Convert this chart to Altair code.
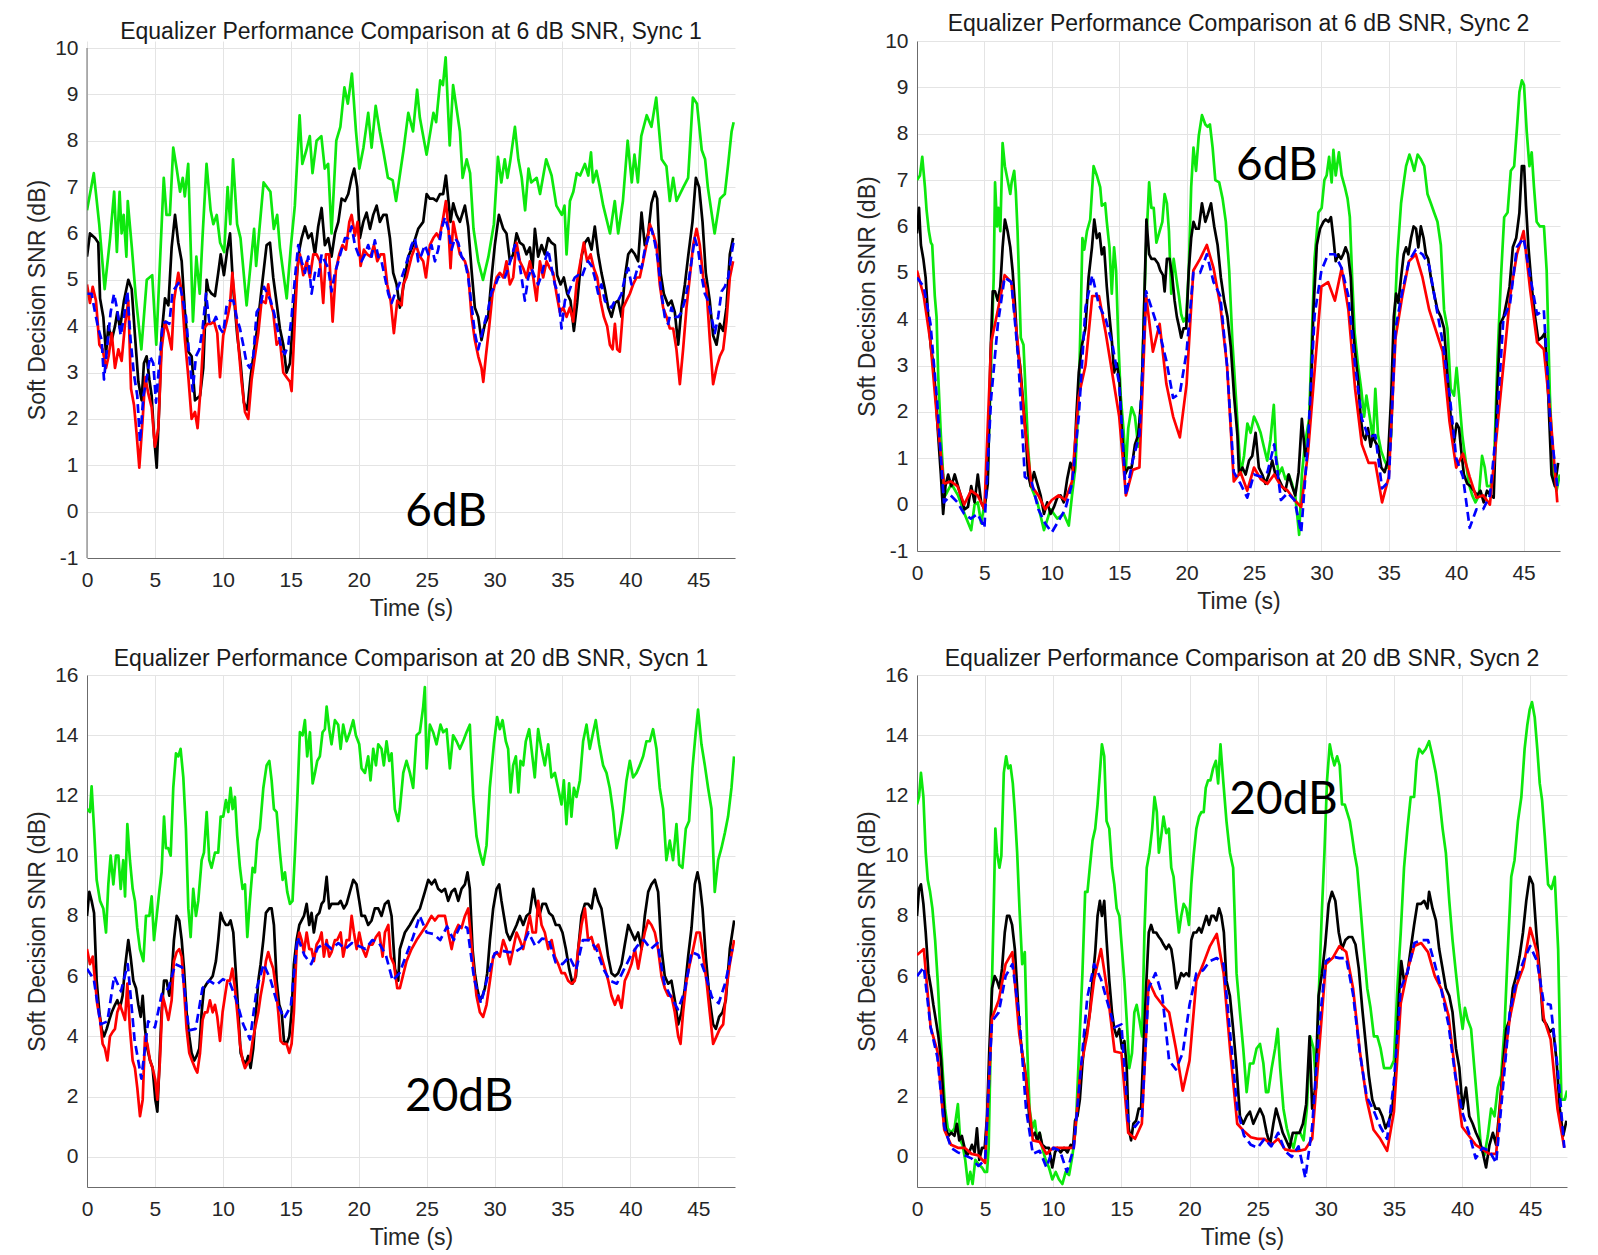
import altair as alt
import pandas as pd

# common sample times (s), 0.5 s spacing
TIME = [k / 2 for k in range(96)]

# ---------------- 6 dB SNR, Sync 1 (read at their own irregular times) ----------------
P1_GREEN_T = [0, 0.5, 0.9, 1.3, 1.7, 2.0, 2.2, 2.4, 2.55, 2.7,
              2.9, 3.0, 3.3, 3.6, 4.0, 4.4, 4.8, 5.1, 5.65, 5.85,
              6.1, 6.35, 6.6, 6.85, 7.05, 7.2, 7.45, 7.8, 8.05, 8.3,
              8.5, 8.8, 9.1, 9.3, 9.55, 9.8, 10.1, 10.35, 10.55, 10.75,
              11.05, 11.3, 11.75, 12.1, 12.3, 12.45, 13.0, 13.5, 13.75, 14.0,
              14.2, 14.7, 15.0, 15.3, 15.65, 15.85, 16.15, 16.4, 16.6, 16.9,
              17.25, 17.5, 17.75, 18.0, 18.35, 18.65, 18.95, 19.2, 19.5, 19.8,
              20.05, 20.35, 20.7, 20.95, 21.25, 21.55, 21.8, 22.15, 22.5, 22.75,
              23.0, 23.3, 23.65, 24.0, 24.3, 24.5, 25.0, 25.5, 25.7, 26.0,
              26.2, 26.4, 26.7, 26.95, 27.2, 27.45, 27.65, 27.95, 28.2, 28.45,
              28.8, 29.15, 29.55, 29.95, 30.25, 30.5, 30.75, 30.95, 31.15, 31.5,
              31.75, 32.0, 32.25, 32.5, 32.7, 33.1, 33.35, 33.8, 34.2, 34.55,
              34.95, 35.15, 35.3, 35.55, 35.8, 36.05, 36.3, 36.65, 36.9, 37.1,
              37.25, 37.5, 37.75, 38.0, 38.5, 38.85, 39.1, 39.45, 39.8, 40.1,
              40.3, 40.55, 40.8, 41.2, 41.55, 41.9, 42.3, 42.65, 42.9, 43.15,
              43.4, 43.9, 44.25, 44.6, 44.9, 45.25, 45.5, 45.7, 46.2, 46.6,
              46.95, 47.2, 47.45, 47.6]
P1_GREEN_V = [6.5, 7.3, 6.2, 4.8, 5.9, 6.9, 5.6, 6.9, 6.0, 6.4,
              5.5, 6.7, 5.7, 4.6, 3.5, 5.0, 5.1, 3.6, 7.2, 6.4,
              6.4, 7.85, 7.4, 6.9, 7.2, 6.8, 7.5, 4.1, 5.5, 4.7,
              5.9, 7.5, 6.5, 6.2, 6.4, 5.8, 5.6, 7.0, 6.2, 7.6,
              6.2, 5.9, 4.45, 5.5, 6.1, 5.3, 7.1, 6.9, 6.1, 6.4,
              5.7, 4.6, 5.7, 6.6, 8.55, 7.5, 7.8, 8.1, 7.3, 8.0,
              8.1, 7.4, 7.5, 6.0, 8.0, 8.3, 9.15, 8.8, 9.45, 8.2,
              7.4, 7.85, 8.6, 7.85, 8.75, 8.2, 7.8, 7.2, 7.15, 6.7,
              7.2, 7.8, 8.6, 8.2, 9.1, 8.5, 7.7, 8.6, 8.4, 9.3,
              9.2, 9.8, 7.9, 9.2, 8.7, 8.2, 7.2, 7.6, 7.3, 6.1,
              5.4, 5.0, 5.5, 6.2, 7.65, 7.1, 7.6, 7.2, 7.55, 8.3,
              7.6, 7.2, 6.5, 7.4, 7.1, 7.2, 6.85, 7.6, 7.25, 6.6,
              6.4, 6.6, 5.55, 6.7, 6.9, 7.3, 7.25, 7.5, 7.25, 7.75,
              7.1, 7.35, 7.0, 6.6, 6.0, 6.7, 6.0, 6.7, 8.0, 7.1,
              7.7, 7.1, 8.1, 8.55, 8.3, 8.93, 7.6, 7.45, 6.7, 7.2,
              6.7, 7.0, 7.2, 8.93, 8.8, 7.8, 7.6, 7.0, 6.0, 6.75,
              6.85, 7.5, 8.2, 8.4]
P1_BLACK_T = [0, 0.22, 0.59, 0.83, 0.96, 1.2, 1.4, 1.57, 1.82, 2.06,
              2.23, 2.43, 2.72, 3.04, 3.29, 3.53, 3.78, 4.02, 4.19, 4.39,
              4.59, 4.76, 4.93, 5.13, 5.32, 5.49, 5.74, 5.99, 6.23, 6.48,
              6.72, 6.97, 7.21, 7.46, 7.7, 7.95, 8.32, 8.56, 8.81, 8.93,
              9.17, 9.42, 9.66, 9.84, 10.08, 10.33, 10.53, 10.77, 11.06, 11.31,
              11.55, 11.8, 12.04, 12.29, 12.53, 12.85, 13.22, 13.47, 13.71, 13.96,
              14.2, 14.45, 14.69, 14.94, 15.18, 15.43, 15.63, 15.8, 16.04, 16.29,
              16.53, 16.78, 17.02, 17.27, 17.51, 17.76, 18.0, 18.25, 18.5, 18.74,
              18.99, 19.23, 19.48, 19.67, 19.89, 20.09, 20.34, 20.58, 20.83, 21.07,
              21.32, 21.56, 21.81, 22.05, 22.3, 22.54, 22.79, 23.03, 23.4, 23.65,
              24.01, 24.38, 24.75, 25.0, 25.24, 25.49, 25.73, 25.98, 26.22, 26.42,
              26.59, 26.76, 26.96, 27.2, 27.45, 27.82, 28.06, 28.31, 28.55, 28.8,
              29.04, 29.29, 29.53, 29.78, 30.02, 30.32, 30.64, 30.88, 31.13, 31.37,
              31.62, 31.86, 32.11, 32.35, 32.6, 32.8, 32.97, 33.21, 33.46, 33.7,
              33.95, 34.19, 34.44, 34.61, 34.86, 35.1, 35.35, 35.59, 35.84, 36.08,
              36.4, 36.65, 36.89, 37.14, 37.38, 37.63, 37.87, 38.12, 38.37, 38.61,
              38.86, 39.1, 39.35, 39.59, 39.84, 40.08, 40.33, 40.57, 40.82, 41.06,
              41.31, 41.55, 41.8, 41.97, 42.22, 42.46, 42.78, 43.02, 43.27, 43.52,
              43.76, 44.01, 44.25, 44.57, 44.82, 45.06, 45.31, 45.55, 45.84, 46.09,
              46.34, 46.58, 46.83, 47.07, 47.32, 47.56]
P1_BLACK_V = [5.5, 6.0, 5.9, 5.8, 4.6, 4.2, 3.4, 4.0, 3.7, 4.0,
              4.3, 3.95, 4.55, 5.0, 4.8, 3.8, 2.8, 2.4, 3.2, 3.35,
              2.85, 2.5, 1.65, 0.95, 2.3, 3.8, 4.6, 4.45, 5.7, 6.4,
              5.8, 5.4, 4.3, 3.45, 3.35, 2.4, 2.5, 3.1, 5.0, 4.8,
              4.7, 4.65, 5.15, 5.55, 5.1, 5.65, 6.0, 4.8, 3.8, 3.2,
              2.35, 2.2, 2.9, 3.45, 3.95, 4.8, 5.75, 5.8, 5.05, 4.5,
              3.95, 3.6, 3.0, 3.2, 4.2, 5.05, 5.65, 5.9, 6.15, 5.9,
              6.0, 5.55, 6.15, 6.55, 5.75, 5.9, 5.5, 6.0, 6.25, 6.75,
              6.7, 6.85, 7.2, 7.4, 7.0, 5.9, 6.25, 6.45, 6.1, 6.4,
              6.6, 6.25, 6.4, 6.4, 5.9, 5.15, 4.9, 4.4, 5.05, 5.5,
              5.75, 6.1, 6.25, 6.85, 6.75, 6.75, 6.7, 6.85, 6.85, 7.25,
              6.75, 6.25, 6.65, 6.4, 6.25, 6.6, 6.15, 5.2, 4.4, 4.2,
              3.7, 4.05, 4.2, 5.05, 5.75, 6.4, 6.1, 6.0, 5.4, 5.55,
              6.0, 5.8, 5.75, 5.55, 5.7, 5.25, 6.1, 5.5, 5.75, 5.55,
              5.9, 5.8, 5.75, 5.1, 4.9, 5.05, 4.7, 4.55, 3.9, 4.5,
              5.5, 5.8, 5.9, 5.65, 6.15, 5.55, 5.15, 4.8, 4.4, 4.2,
              4.5, 4.55, 4.2, 5.05, 5.55, 5.65, 5.55, 5.4, 6.45, 5.75,
              6.0, 6.65, 6.9, 6.75, 5.15, 4.7, 4.45, 4.55, 4.3, 3.6,
              4.4, 4.9, 5.5, 6.25, 7.2, 7.0, 6.25, 5.15, 4.55, 3.8,
              3.6, 4.05, 3.9, 4.4, 5.55, 5.9]
P1_RED_T = [0, 0.22, 0.42, 0.66, 0.91, 1.15, 1.4, 1.59, 1.82, 2.06,
            2.31, 2.55, 2.8, 3.04, 3.24, 3.46, 3.66, 3.85, 4.1, 4.29,
            4.51, 4.76, 5.0, 5.25, 5.49, 5.74, 5.99, 6.23, 6.4, 6.72,
            6.97, 7.21, 7.46, 7.7, 7.95, 8.14, 8.36, 8.61, 8.86, 9.1,
            9.35, 9.59, 9.79, 10.03, 10.28, 10.52, 10.7, 10.89, 11.14, 11.38,
            11.63, 11.87, 12.12, 12.36, 12.61, 12.85, 13.15, 13.34, 13.52, 13.71,
            13.96, 14.2, 14.45, 14.69, 14.94, 15.06, 15.31, 15.5, 15.67, 15.92,
            16.17, 16.41, 16.66, 16.9, 17.15, 17.39, 17.59, 17.83, 18.08, 18.32,
            18.57, 18.81, 19.06, 19.31, 19.48, 19.72, 19.92, 20.14, 20.38, 20.63,
            20.87, 21.12, 21.37, 21.61, 21.86, 22.1, 22.35, 22.59, 22.84, 23.16,
            23.28, 23.52, 23.89, 24.21, 24.51, 24.75, 24.95, 25.24, 25.49, 25.73,
            25.93, 26.17, 26.42, 26.61, 26.76, 26.96, 27.2, 27.45, 27.82, 28.06,
            28.31, 28.55, 28.8, 29.04, 29.17, 29.36, 29.61, 29.85, 30.15, 30.39,
            30.64, 30.88, 31.13, 31.37, 31.62, 31.86, 32.11, 32.35, 32.6, 32.85,
            33.09, 33.34, 33.58, 33.83, 34.07, 34.32, 34.56, 34.81, 35.05, 35.3,
            35.54, 35.79, 36.03, 36.33, 36.57, 36.82, 37.07, 37.31, 37.56, 37.8,
            38.05, 38.29, 38.49, 38.69, 38.86, 39.03, 39.22, 39.47, 39.71, 39.96,
            40.2, 40.45, 40.69, 40.94, 41.18, 41.43, 41.67, 41.92, 42.16, 42.41,
            42.66, 42.9, 43.15, 43.39, 43.64, 43.88, 44.13, 44.37, 44.62, 44.87,
            45.11, 45.36, 45.6, 45.85, 46.09, 46.34, 46.58, 46.83, 47.07, 47.32,
            47.56]
P1_RED_V = [4.9, 4.5, 4.85, 4.55, 3.6, 3.5, 3.1, 3.35, 3.85, 3.1,
            3.5, 3.25, 4.05, 4.55, 2.65, 2.3, 1.65, 0.95, 2.0, 2.9,
            2.55, 2.25, 1.4, 1.8, 3.5, 4.1, 3.85, 3.5, 4.55, 5.15,
            4.75, 3.7, 2.9, 2.0, 2.15, 1.8, 2.65, 3.95, 4.05, 4.05,
            4.1, 3.85, 2.9, 3.8, 4.1, 4.45, 5.15, 4.55, 3.6, 2.8,
            2.15, 2.0, 2.85, 3.35, 3.85, 4.55, 4.5, 4.9, 4.5, 4.3,
            3.6, 3.7, 3.0, 2.9, 2.8, 2.6, 4.2, 5.3, 5.55, 5.1,
            5.4, 5.05, 5.55, 5.55, 5.4, 4.5, 5.55, 5.55, 4.1, 5.2,
            5.55, 5.75, 5.65, 6.25, 6.4, 5.95, 6.25, 5.3, 5.65, 5.55,
            5.5, 5.75, 5.4, 5.55, 5.55, 4.9, 4.55, 3.85, 4.55, 4.45,
            4.9, 5.05, 5.5, 5.75, 5.5, 5.4, 5.05, 5.75, 5.9, 6.0,
            5.9, 6.25, 6.7, 6.1, 5.25, 6.25, 5.9, 5.55, 5.4, 5.15,
            4.2, 3.7, 3.35, 3.1, 2.8, 3.35, 4.0, 4.7, 5.05, 5.15,
            5.05, 5.4, 4.9, 5.05, 5.8, 5.4, 5.25, 5.05, 5.4, 5.05,
            4.55, 5.4, 5.05, 5.4, 5.25, 5.15, 4.7, 4.3, 4.4, 4.2,
            4.4, 4.1, 4.9, 5.4, 5.8, 5.4, 5.55, 5.25, 5.05, 4.55,
            4.2, 4.0, 3.6, 3.5, 4.05, 3.5, 3.45, 4.4, 4.55, 4.7,
            4.9, 5.05, 5.05, 5.4, 5.75, 6.2, 6.0, 5.75, 4.9, 4.4,
            4.2, 3.95, 3.95, 3.5, 2.75, 3.5, 4.4, 5.05, 5.75, 6.1,
            5.75, 5.05, 4.8, 3.7, 2.75, 3.1, 3.35, 3.5, 4.1, 5.05,
            5.4]
P1_BLUE_T = [0, 0.34, 0.59, 0.83, 1.08, 1.25, 1.5, 1.74, 1.99, 2.23,
             2.48, 2.72, 2.97, 3.21, 3.46, 3.7, 3.9, 4.15, 4.39, 4.64,
             4.88, 5.08, 5.32, 5.57, 5.81, 6.06, 6.3, 6.55, 6.79, 7.04,
             7.29, 7.53, 7.78, 8.02, 8.27, 8.51, 8.76, 9.0, 9.25, 9.49,
             9.79, 10.03, 10.28, 10.52, 10.77, 11.01, 11.26, 11.5, 11.75, 11.99,
             12.24, 12.49, 12.78, 13.03, 13.27, 13.52, 13.76, 14.01, 14.33, 14.57,
             14.82, 15.06, 15.31, 15.55, 15.8, 16.04, 16.29, 16.53, 16.78, 17.02,
             17.27, 17.51, 17.76, 18.0, 18.25, 18.5, 18.74, 18.99, 19.23, 19.48,
             19.72, 19.97, 20.21, 20.46, 20.7, 20.95, 21.19, 21.44, 21.68, 21.93,
             22.18, 22.42, 22.67, 22.91, 23.16, 23.4, 23.65, 23.89, 24.14, 24.38,
             24.63, 24.87, 25.12, 25.36, 25.61, 25.85, 26.1, 26.35, 26.59, 26.84,
             27.08, 27.33, 27.57, 27.82, 28.06, 28.31, 28.55, 28.8, 29.04, 29.29,
             29.53, 29.78, 30.02, 30.27, 30.52, 30.76, 31.01, 31.25, 31.5, 31.74,
             31.99, 32.23, 32.48, 32.72, 32.97, 33.21, 33.46, 33.7, 33.95, 34.2,
             34.44, 34.69, 34.93, 35.18, 35.42, 35.67, 35.91, 36.16, 36.4, 36.65,
             36.89, 37.14, 37.38, 37.63, 37.87, 38.12, 38.37, 38.61, 38.86, 39.1,
             39.35, 39.59, 39.84, 40.08, 40.33, 40.57, 40.82, 41.06, 41.31, 41.55,
             41.8, 42.04, 42.29, 42.53, 42.78, 43.02, 43.27, 43.52, 43.76, 44.01,
             44.25, 44.5, 44.74, 44.99, 45.23, 45.48, 45.72, 45.97, 46.21, 46.46,
             46.71, 46.95, 47.2, 47.44, 47.64]
P1_BLUE_V = [4.7, 4.7, 4.3, 3.95, 3.7, 2.85, 3.6, 4.3, 4.7, 4.35,
             3.8, 4.2, 4.75, 3.7, 2.95, 2.5, 1.5, 2.5, 2.85, 3.35,
             3.2, 2.35, 3.2, 4.05, 4.1, 4.05, 4.75, 4.85, 4.95, 4.6,
             4.2, 3.35, 2.6, 3.35, 3.5, 3.95, 4.7, 4.1, 4.05, 4.2,
             3.95, 3.85, 4.45, 4.55, 4.55, 4.2, 3.95, 3.6, 3.2, 3.1,
             3.35, 4.3, 4.45, 4.85, 4.7, 4.55, 4.3, 3.95, 3.5, 3.4,
             3.6, 4.2, 5.05, 5.75, 5.4, 5.15, 5.5, 4.7, 5.15, 5.05,
             5.55, 5.4, 5.25, 4.75, 5.15, 5.4, 5.65, 5.9, 5.9, 6.15,
             5.75, 5.55, 5.4, 5.55, 5.75, 5.5, 5.85, 5.5, 5.4, 5.05,
             4.7, 4.5, 4.7, 4.85, 5.05, 5.25, 5.5, 5.75, 5.9, 5.4,
             5.55, 5.75, 5.55, 5.75, 5.4, 5.65, 6.1, 6.35, 6.1, 5.65,
             5.9, 5.8, 5.5, 5.4, 5.05, 4.45, 3.85, 3.5, 3.8, 4.1,
             4.35, 4.75, 4.85, 5.05, 5.1, 5.05, 5.25, 5.5, 5.75, 5.55,
             5.05, 4.55, 5.05, 5.25, 5.05, 4.9, 5.1, 5.4, 5.65, 5.25,
             4.9, 4.7, 3.95, 4.55, 4.7, 4.9, 5.05, 5.1, 5.05, 5.25,
             5.4, 5.3, 5.05, 4.7, 4.9, 4.55, 4.45, 4.4, 4.55, 4.55,
             4.7, 5.05, 5.25, 4.9, 5.05, 5.3, 5.25, 5.65, 5.9, 6.1,
             5.8, 5.4, 4.7, 4.2, 4.05, 4.4, 4.2, 4.2, 4.3, 4.55,
             4.9, 5.4, 5.9, 5.65, 5.1, 4.7, 4.55, 4.2, 3.85, 4.2,
             4.75, 4.85, 5.05, 5.55, 5.9]

# ---------------- 6 dB SNR, Sync 2 ----------------
P2_GREEN_T = [0, 0.22, 0.39, 0.59, 0.71, 0.88, 1.03, 1.13, 1.32, 1.45,
              1.57, 1.77, 1.94, 2.11, 2.55, 3.04, 3.53, 4.02, 4.27, 4.51,
              4.76, 5.0, 5.25, 5.49, 5.69, 5.79, 5.94, 6.03, 6.18, 6.35,
              6.52, 6.72, 6.92, 7.02, 7.21, 7.33, 7.46, 7.7, 7.9, 8.07,
              8.24, 8.44, 8.93, 9.42, 9.91, 10.4, 10.89, 11.26, 11.5, 11.75,
              12.0, 12.17, 12.27, 12.41, 12.61, 12.85, 13.1, 13.34, 13.59, 13.71,
              13.96, 14.08, 14.28, 14.45, 14.62, 14.77, 14.94, 15.11, 15.31, 15.5,
              15.67, 15.92, 16.17, 16.41, 16.66, 16.83, 16.97, 17.22, 17.39, 17.56,
              17.76, 18.0, 18.2, 18.37, 18.54, 18.69, 18.86, 19.04, 19.23, 19.43,
              19.6, 19.77, 19.97, 20.16, 20.34, 20.51, 20.7, 20.9, 21.14, 21.39,
              21.56, 21.73, 21.93, 22.13, 22.42, 22.67, 22.91, 23.16, 23.4, 23.65,
              24.01, 24.26, 24.51, 24.75, 25.0, 25.24, 25.49, 25.73, 25.98, 26.22,
              26.47, 26.64, 26.84, 27.08, 27.33, 27.57, 27.82, 28.06, 28.35, 28.55,
              28.8, 29.09, 29.29, 29.49, 29.78, 30.02, 30.22, 30.39, 30.57, 30.76,
              30.89, 31.06, 31.3, 31.5, 31.74, 31.94, 32.11, 32.28, 32.47, 32.72,
              32.97, 33.17, 33.34, 33.58, 33.83, 34.0, 34.2, 34.44, 34.69, 34.93,
              35.18, 35.37, 35.62, 35.91, 36.11, 36.28, 36.53, 36.7, 36.89, 37.14,
              37.38, 37.63, 37.87, 38.12, 38.36, 38.61, 38.86, 39.1, 39.35, 39.59,
              39.84, 40.03, 40.21, 40.45, 40.7, 40.94, 41.19, 41.43, 41.68, 41.92,
              42.12, 42.29, 42.54, 42.78, 43.07, 43.32, 43.56, 43.81, 44.05, 44.3,
              44.5, 44.69, 44.87, 45.03, 45.23, 45.43, 45.6, 45.77, 45.97, 46.21,
              46.51, 46.71, 46.95, 47.2, 47.44, 47.69]
P2_GREEN_V = [7.0, 7.1, 7.5, 6.85, 6.35, 5.9, 5.65, 5.6, 4.5, 4.05,
              2.8, 1.5, 0.65, 0.2, 0.45, 0.2, -0.2, -0.55, 0.0, 0.05,
              -0.4, 0.0, 0.65, 2.95, 4.9, 6.95, 6.0, 6.4, 5.9, 7.8,
              7.3, 7.0, 6.7, 6.95, 7.2, 6.75, 5.9, 3.6, 3.45, 2.35,
              1.25, 0.4, 0.05, -0.55, -0.1, -0.3, -0.2, -0.45, 0.2, 0.8,
              2.35, 4.4, 5.75, 5.5, 5.9, 6.15, 7.3, 7.1, 6.85, 6.45,
              6.5, 6.1, 5.55, 4.55, 5.55, 5.05, 3.5, 2.35, 1.65, 0.8,
              1.65, 2.1, 1.9, 1.25, 2.35, 4.05, 5.4, 6.95, 6.4, 6.4,
              5.65, 5.9, 6.1, 6.7, 6.5, 5.9, 4.55, 5.3, 4.9, 4.5,
              4.1, 3.95, 4.05, 5.05, 6.85, 7.7, 7.2, 7.95, 8.4, 8.2,
              8.15, 8.2, 7.7, 7.0, 6.95, 6.6, 6.1, 5.05, 3.5, 2.35,
              0.65, 1.05, 1.75, 1.55, 1.9, 1.75, 1.55, 1.25, 0.95, 1.4,
              2.15, 1.05, 0.65, 0.8, 0.55, 0.65, 0.45, 0.2, -0.65, 0.65,
              1.35, 1.85, 3.6, 5.3, 6.3, 6.4, 7.0, 7.1, 7.5, 6.95,
              7.65, 7.1, 7.6, 7.1, 6.85, 6.6, 6.2, 4.9, 3.7, 3.0,
              2.45, 1.9, 2.35, 1.9, 1.4, 2.5, 1.5, 1.15, 0.95, 0.8,
              1.5, 3.6, 5.3, 6.5, 6.95, 7.3, 7.55, 7.4, 7.2, 7.55,
              7.45, 7.3, 6.7, 6.5, 6.3, 6.1, 5.6, 4.2, 3.8, 2.5,
              2.35, 2.95, 2.35, 1.5, 0.95, 0.45, 0.2, 0.05, 0.2, 1.05,
              0.8, 0.4, 0.4, 0.65, 3.2, 4.9, 6.2, 6.3, 7.2, 7.3,
              8.1, 8.9, 9.15, 9.05, 8.05, 7.3, 7.6, 6.85, 6.1, 6.0,
              6.0, 5.05, 2.35, 0.65, 0.3, 0.65]
P2_BLACK_T = [0, 0.15, 0.29, 0.47, 0.64, 0.83, 1.03, 1.2, 1.37, 1.57,
              1.77, 1.94, 2.11, 2.31, 2.55, 2.8, 3.04, 3.29, 3.53, 3.78,
              4.02, 4.27, 4.51, 4.76, 5.0, 5.25, 5.45, 5.62, 5.79, 5.99,
              6.18, 6.35, 6.52, 6.72, 6.92, 7.09, 7.26, 7.46, 7.65, 7.83,
              8.07, 8.24, 8.44, 8.68, 8.93, 9.17, 9.42, 9.66, 9.91, 10.16,
              10.4, 10.65, 10.89, 11.14, 11.38, 11.63, 11.82, 12.0, 12.24, 12.49,
              12.73, 12.98, 13.15, 13.34, 13.54, 13.71, 13.88, 14.08, 14.28, 14.45,
              14.62, 14.82, 15.01, 15.18, 15.43, 15.67, 15.92, 16.17, 16.41, 16.66,
              16.83, 17.02, 17.22, 17.39, 17.64, 17.88, 18.05, 18.25, 18.37, 18.54,
              18.74, 18.94, 19.11, 19.28, 19.43, 19.6, 19.77, 19.97, 20.16, 20.34,
              20.51, 20.7, 20.9, 21.14, 21.39, 21.56, 21.81, 22.05, 22.3, 22.54,
              22.79, 23.03, 23.28, 23.52, 23.77, 23.89, 24.14, 24.38, 24.63, 24.87,
              25.12, 25.36, 25.61, 25.85, 26.1, 26.35, 26.59, 26.84, 27.08, 27.33,
              27.57, 27.82, 28.06, 28.31, 28.55, 28.8, 28.99, 29.16, 29.41, 29.66,
              29.9, 30.15, 30.32, 30.52, 30.71, 30.89, 31.06, 31.25, 31.45, 31.62,
              31.79, 31.98, 32.18, 32.35, 32.53, 32.72, 32.92, 33.09, 33.26, 33.46,
              33.65, 33.83, 34.0, 34.2, 34.44, 34.69, 34.93, 35.18, 35.37, 35.54,
              35.71, 35.91, 36.11, 36.28, 36.45, 36.65, 36.84, 37.02, 37.19, 37.38,
              37.58, 37.75, 37.92, 38.12, 38.36, 38.61, 38.86, 39.1, 39.35, 39.59,
              39.84, 40.03, 40.21, 40.38, 40.57, 40.82, 41.06, 41.31, 41.55, 41.8,
              42.04, 42.29, 42.54, 42.78, 43.03, 43.27, 43.52, 43.76, 43.96, 44.2,
              44.45, 44.69, 44.87, 45.04, 45.18, 45.36, 45.6, 45.85, 46.09, 46.34,
              46.58, 46.83, 47.07, 47.32, 47.56]
P2_BLACK_V = [5.85, 6.4, 5.6, 5.3, 4.9, 4.05, 3.4, 3.05, 2.45, 1.5,
              0.65, -0.2, 0.4, 0.65, 0.4, 0.65, 0.4, 0.15, -0.1, -0.05,
              0.4, 0.05, 0.65, 0.05, -0.1, 0.45, 3.2, 4.6, 4.6, 4.4,
              4.7, 5.55, 6.15, 5.9, 5.55, 5.05, 4.35, 3.35, 3.0, 2.35,
              1.5, 0.65, 0.4, 0.7, 0.45, 0.2, -0.2, 0.05, -0.2, -0.05,
              0.15, 0.2, 0.05, 0.55, 0.9, 0.7, 1.9, 2.85, 3.45, 3.8,
              4.9, 5.55, 6.15, 5.75, 5.85, 5.4, 5.55, 4.7, 4.05, 3.55,
              2.85, 3.05, 2.7, 1.65, 0.65, 0.8, 0.8, 1.3, 1.5, 2.35,
              4.05, 6.15, 5.4, 5.3, 5.3, 5.2, 5.05, 4.95, 4.6, 5.3,
              5.3, 4.9, 4.4, 4.05, 3.85, 3.6, 3.8, 3.8, 5.05, 5.75,
              6.1, 5.95, 5.95, 6.5, 6.1, 6.25, 6.5, 6.0, 5.6, 4.9,
              4.4, 4.05, 3.4, 2.35, 1.5, 0.65, 0.8, 0.65, 0.95, 1.05,
              1.55, 0.8, 0.65, 0.45, 0.65, 0.95, 0.65, 0.55, 0.4, 0.3,
              0.65, 0.4, 0.2, 0.7, 1.85, 1.05, 1.25, 1.9, 4.2, 5.6,
              5.95, 6.1, 6.15, 6.1, 6.2, 5.75, 5.25, 5.4, 5.3, 5.4,
              5.55, 5.4, 4.9, 3.8, 3.2, 2.7, 1.85, 1.5, 1.4, 1.65,
              1.25, 1.5, 1.35, 1.25, 0.8, 0.7, 0.95, 2.35, 4.05, 4.55,
              4.35, 4.9, 5.4, 5.55, 5.4, 5.75, 6.0, 5.95, 5.55, 6.0,
              5.75, 5.4, 5.3, 4.9, 4.55, 4.2, 4.05, 3.8, 2.8, 1.9,
              1.35, 1.75, 1.65, 1.15, 0.65, 0.45, 0.4, 0.3, 0.2, 0.3,
              0.05, 0.3, 0.2, 0.15, 2.35, 3.9, 4.05, 4.4, 4.7, 5.55,
              5.75, 6.3, 7.3, 7.3, 6.45, 5.55, 4.7, 4.05, 3.55, 3.6,
              3.7, 2.35, 0.65, 0.4, 0.9]
P2_RED = [5.05, 4.5, 3.5, 1.8, 0.45, 0.5, 0.4, 0.0, 0.3, 0.2,
          -0.1, 3.5, 4.2, 4.95, 4.8, 3.4, 1.7, 0.4, 0.2, -0.1,
          0.1, 0.2, 0.1, 0.5, 2.35, 3.0, 4.5, 4.5, 3.7, 2.8,
          1.9, 0.2, 0.75, 0.8, 4.5, 3.3, 3.9, 2.6, 1.9, 1.45,
          2.6, 5.05, 5.3, 5.6, 5.1, 4.3, 3.0, 0.5, 0.7, 0.3,
          0.8, 0.55, 0.45, 0.65, 0.4, 0.3, 0.1, -0.05, 1.1, 2.9,
          4.7, 4.8, 4.4, 5.1, 4.2, 2.5, 1.3, 0.9, 0.9, 0.05,
          0.6, 3.6, 4.5, 5.25, 5.4, 4.9, 4.2, 3.75, 3.3, 1.8,
          0.8, 1.1, 0.6, 0.15, 0.2, 0.0, 1.5, 3.0, 4.5, 5.4,
          5.9, 4.6, 3.5, 3.35, 1.9, 0.05]
P2_BLUE = [4.9, 4.7, 3.9, 2.2, 0.05, 0.2, 0.05, -0.2, -0.3, -0.2,
           -0.5, 2.3, 3.9, 4.9, 4.8, 3.2, 0.6, 0.5, -0.1, -0.4,
           -0.6, -0.35, -0.1, 0.45, 1.9, 4.25, 4.95, 4.3, 4.0, 3.45,
           2.6, 0.2, 0.95, 1.5, 4.6, 4.15, 3.7, 3.1, 2.3, 2.4,
           3.3, 5.0, 5.0, 5.4, 4.8, 4.5, 3.0, 0.7, 0.45, 0.15,
           0.65, 0.6, 0.7, 1.3, 0.1, 0.25, 0.1, -0.6, 1.35, 4.1,
           5.05, 5.4, 5.4, 5.1, 4.5, 3.0, 1.85, 1.45, 1.5, 0.35,
           0.5, 3.8, 4.6, 5.25, 5.5, 5.4, 5.15, 4.3, 3.5, 2.4,
           1.0, 0.6, -0.5, -0.1, -0.1, 0.2, 1.7, 4.0, 4.35, 5.55,
           5.75, 4.9, 4.1, 4.2, 1.7, 0.4]

# ---------------- 20 dB SNR, Sync 1 ----------------
P3_GREEN_T = [0, 0.22, 0.34, 0.52, 0.71, 0.96, 1.2, 1.4, 1.57, 1.74,
              1.94, 2.13, 2.31, 2.48, 2.67, 2.8, 2.97, 3.16, 3.36, 3.53,
              3.7, 3.9, 4.15, 4.34, 4.59, 4.76, 4.93, 5.13, 5.32, 5.49,
              5.67, 5.81, 5.98, 6.16, 6.35, 6.55, 6.72, 6.89, 7.09, 7.28,
              7.46, 7.63, 7.82, 8.02, 8.19, 8.44, 8.61, 8.81, 9.0, 9.17,
              9.42, 9.66, 9.84, 10.03, 10.23, 10.4, 10.57, 10.72, 10.89, 11.06,
              11.26, 11.45, 11.63, 11.8, 11.99, 12.19, 12.36, 12.53, 12.73, 12.98,
              13.22, 13.42, 13.59, 13.76, 13.96, 14.2, 14.4, 14.57, 14.74, 14.94,
              15.13, 15.31, 15.48, 15.67, 15.87, 16.04, 16.21, 16.41, 16.61, 16.78,
              16.95, 17.14, 17.34, 17.51, 17.64, 17.83, 18.0, 18.25, 18.49, 18.67,
              18.86, 19.11, 19.35, 19.6, 19.79, 20.04, 20.21, 20.46, 20.7, 20.87,
              21.07, 21.27, 21.44, 21.68, 21.85, 22.05, 22.25, 22.42, 22.66, 22.91,
              23.03, 23.28, 23.52, 23.77, 24.01, 24.26, 24.5, 24.75, 24.87, 25.0,
              25.24, 25.48, 25.73, 26.02, 26.22, 26.47, 26.71, 26.95, 27.2, 27.45,
              27.69, 27.94, 28.18, 28.43, 28.67, 28.92, 29.16, 29.41, 29.65, 29.95,
              30.19, 30.39, 30.59, 30.83, 31.0, 31.18, 31.37, 31.57, 31.76, 31.91,
              32.11, 32.3, 32.55, 32.72, 32.96, 33.21, 33.45, 33.7, 33.95, 34.19,
              34.44, 34.68, 34.93, 35.1, 35.29, 35.49, 35.66, 35.84, 36.03, 36.28,
              36.52, 36.77, 37.01, 37.26, 37.45, 37.7, 37.99, 38.24, 38.48, 38.73,
              38.98, 39.22, 39.46, 39.71, 39.96, 40.2, 40.45, 40.69, 40.94, 41.18,
              41.43, 41.67, 41.92, 42.16, 42.41, 42.65, 42.9, 43.14, 43.39, 43.59,
              43.83, 44.08, 44.32, 44.57, 44.81, 44.98, 45.23, 45.48, 45.72, 45.97,
              46.21, 46.46, 46.7, 46.95, 47.19, 47.44, 47.63]
P3_GREEN_V = [11.55, 11.45, 12.3, 10.9, 9.2, 8.5, 8.25, 7.45, 9.05, 10.0,
              9.05, 10.0, 10.0, 8.9, 9.85, 8.65, 11.05, 9.85, 8.9, 8.5,
              7.6, 6.9, 6.5, 8.0, 8.0, 8.65, 7.2, 8.0, 8.8, 9.45,
              11.3, 10.25, 10.25, 10.0, 12.25, 13.4, 13.3, 13.55, 12.6, 10.9,
              8.25, 7.3, 8.9, 8.0, 8.5, 9.85, 10.1, 11.45, 9.85, 9.6,
              10.1, 10.1, 11.3, 11.3, 11.85, 11.45, 12.25, 11.55, 11.95, 10.65,
              9.6, 8.9, 9.05, 7.3, 8.5, 9.6, 9.45, 10.5, 10.9, 12.25,
              13.0, 13.15, 12.5, 11.55, 11.45, 10.1, 9.2, 9.45, 8.8, 8.4,
              8.5, 10.1, 11.85, 14.1, 14.0, 14.5, 13.3, 14.1, 12.4, 12.75,
              13.15, 13.3, 14.1, 14.2, 14.95, 14.2, 13.7, 14.5, 14.35, 13.55,
              14.35, 13.8, 14.1, 14.5, 14.0, 13.7, 12.9, 12.75, 13.3, 12.5,
              13.55, 13.0, 13.7, 13.55, 13.0, 13.8, 13.15, 13.4, 11.55, 11.15,
              11.55, 12.75, 13.15, 12.75, 12.25, 14.0, 14.1, 14.95, 15.6, 12.9,
              14.35, 14.1, 13.7, 14.35, 14.1, 14.2, 12.9, 14.0, 13.8, 13.55,
              13.8, 14.1, 14.35, 11.95, 10.65, 10.1, 9.7, 10.35, 12.25, 13.7,
              14.6, 14.2, 14.5, 13.8, 13.55, 12.1, 13.0, 13.3, 12.1, 13.15,
              13.0, 13.8, 14.2, 13.55, 12.6, 14.2, 13.55, 13.0, 13.7, 12.6,
              12.75, 12.25, 11.7, 12.5, 11.05, 12.4, 11.3, 12.25, 11.95, 12.5,
              13.8, 14.35, 13.55, 14.1, 14.5, 13.7, 13.0, 12.75, 12.25, 11.45,
              10.25, 10.75, 11.45, 12.5, 13.15, 12.6, 12.75, 13.0, 13.3, 13.8,
              13.8, 14.2, 13.55, 12.25, 11.55, 9.85, 10.5, 9.85, 11.05, 9.7,
              9.6, 10.9, 11.15, 12.9, 14.1, 14.85, 13.7, 13.0, 12.25, 11.55,
              8.8, 9.85, 10.25, 10.75, 11.3, 12.25, 13.3]
P3_BLACK_T = [0, 0.17, 0.34, 0.52, 0.71, 0.91, 1.08, 1.25, 1.45, 1.64,
              1.82, 2.06, 2.23, 2.43, 2.62, 2.8, 3.04, 3.21, 3.41, 3.61,
              3.78, 3.95, 4.1, 4.27, 4.44, 4.64, 4.83, 5.03, 5.18, 5.32,
              5.49, 5.67, 5.86, 6.06, 6.23, 6.4, 6.6, 6.79, 6.97, 7.14,
              7.33, 7.53, 7.7, 7.9, 8.07, 8.27, 8.44, 8.61, 8.81, 9.0,
              9.25, 9.49, 9.66, 9.84, 10.03, 10.23, 10.4, 10.57, 10.77, 10.96,
              11.14, 11.31, 11.5, 11.7, 11.87, 12.04, 12.24, 12.44, 12.61, 12.78,
              12.98, 13.17, 13.42, 13.59, 13.76, 13.96, 14.15, 14.33, 14.5, 14.69,
              14.89, 15.06, 15.23, 15.43, 15.63, 15.8, 15.97, 16.17, 16.36, 16.53,
              16.7, 16.9, 17.1, 17.27, 17.44, 17.64, 17.83, 18.0, 18.25, 18.5,
              18.67, 18.91, 19.11, 19.35, 19.6, 19.84, 20.04, 20.21, 20.46, 20.7,
              20.95, 21.19, 21.44, 21.68, 21.93, 22.18, 22.42, 22.67, 22.91, 23.03,
              23.4, 23.77, 24.14, 24.51, 24.87, 25.12, 25.36, 25.61, 25.85, 26.1,
              26.35, 26.59, 26.84, 27.08, 27.33, 27.57, 27.82, 28.01, 28.18, 28.38,
              28.55, 28.72, 28.92, 29.12, 29.29, 29.46, 29.66, 29.9, 30.15, 30.34,
              30.51, 30.69, 30.89, 31.13, 31.37, 31.62, 31.86, 32.11, 32.35, 32.6,
              32.85, 33.04, 33.29, 33.53, 33.78, 34.02, 34.27, 34.51, 34.76, 35.0,
              35.25, 35.49, 35.74, 35.99, 36.16, 36.4, 36.65, 36.89, 37.14, 37.38,
              37.63, 37.87, 38.12, 38.36, 38.61, 38.86, 39.1, 39.35, 39.59, 39.84,
              40.08, 40.33, 40.57, 40.82, 41.06, 41.31, 41.55, 41.8, 42.04, 42.29,
              42.53, 42.78, 43.02, 43.27, 43.52, 43.76, 44.01, 44.25, 44.5, 44.74,
              44.94, 45.11, 45.31, 45.55, 45.84, 46.09, 46.29, 46.53, 46.78, 47.02,
              47.32, 47.64]
P3_BLACK_V = [8.0, 8.8, 8.5, 8.1, 5.85, 4.8, 4.25, 4.0, 4.25, 4.55,
              4.8, 5.05, 5.2, 4.95, 5.35, 6.3, 7.2, 6.65, 5.85, 5.6,
              5.05, 4.65, 5.35, 4.25, 3.6, 3.2, 2.95, 1.9, 1.5, 2.95,
              4.8, 5.85, 5.85, 5.35, 6.0, 7.2, 8.0, 7.85, 7.2, 6.25,
              4.8, 4.0, 3.45, 3.2, 3.35, 3.6, 4.8, 5.6, 5.75, 5.85,
              6.0, 6.5, 7.2, 8.1, 7.85, 7.7, 7.7, 7.85, 7.45, 6.1,
              4.8, 3.45, 3.2, 3.1, 3.35, 2.95, 3.6, 4.8, 5.85, 6.4,
              7.2, 8.1, 8.25, 8.25, 7.7, 5.85, 5.05, 4.8, 3.85, 3.75,
              4.0, 4.8, 6.4, 7.2, 7.7, 7.85, 8.0, 8.4, 7.7, 8.1,
              7.45, 8.0, 8.1, 8.4, 8.5, 9.3, 8.25, 8.4, 8.4, 8.4,
              8.5, 8.25, 8.4, 8.8, 9.2, 9.05, 8.5, 8.0, 8.0, 7.7,
              7.85, 8.25, 8.25, 8.0, 8.4, 8.5, 8.0, 6.25, 5.85, 6.9,
              7.45, 7.7, 8.0, 8.25, 8.8, 9.2, 9.05, 9.2, 8.9, 8.8,
              8.9, 8.5, 8.8, 8.9, 8.5, 8.9, 9.05, 9.45, 8.9, 6.9,
              6.1, 5.6, 5.2, 5.35, 5.6, 6.1, 7.2, 8.25, 8.9, 9.05,
              8.5, 8.0, 7.45, 7.2, 7.45, 7.7, 8.0, 7.7, 8.0, 8.1,
              8.9, 8.4, 8.0, 8.4, 8.4, 8.1, 8.0, 7.7, 7.7, 7.45,
              6.9, 6.25, 5.75, 6.0, 6.9, 8.0, 8.4, 8.4, 8.25, 8.9,
              8.5, 8.25, 7.45, 6.65, 6.1, 6.0, 6.1, 6.4, 7.05, 7.7,
              7.45, 7.2, 7.45, 6.9, 8.0, 8.8, 9.05, 9.2, 8.8, 6.9,
              6.0, 5.75, 5.85, 5.2, 4.4, 4.8, 5.6, 6.65, 7.6, 9.05,
              9.45, 9.05, 8.25, 6.65, 5.2, 4.4, 4.25, 4.65, 4.8, 5.2,
              6.9, 7.85]
P3_RED_T = [0, 0.22, 0.42, 0.59, 0.76, 0.96, 1.15, 1.32, 1.5, 1.69,
            1.89, 2.06, 2.23, 2.43, 2.62, 2.8, 2.97, 3.16, 3.36, 3.53,
            3.7, 3.9, 4.1, 4.27, 4.44, 4.64, 4.83, 5.03, 5.18, 5.37,
            5.57, 5.74, 5.99, 6.23, 6.4, 6.6, 6.79, 6.97, 7.14, 7.33,
            7.53, 7.73, 7.95, 8.12, 8.32, 8.51, 8.68, 8.86, 9.05, 9.25,
            9.42, 9.59, 9.79, 9.98, 10.16, 10.33, 10.52, 10.7, 10.89, 11.06,
            11.26, 11.46, 11.63, 11.8, 11.99, 12.19, 12.36, 12.61, 12.78, 12.98,
            13.17, 13.34, 13.52, 13.71, 13.91, 14.08, 14.25, 14.45, 14.69, 14.89,
            15.06, 15.23, 15.43, 15.63, 15.8, 15.97, 16.17, 16.36, 16.53, 16.7,
            16.9, 17.1, 17.27, 17.44, 17.64, 17.83, 18.0, 18.25, 18.42, 18.67,
            18.86, 19.11, 19.31, 19.48, 19.65, 19.85, 20.04, 20.29, 20.53, 20.78,
            21.02, 21.27, 21.51, 21.76, 21.93, 22.18, 22.35, 22.59, 22.84, 23.03,
            23.52, 23.89, 24.26, 24.63, 25.0, 25.36, 25.61, 25.85, 26.1, 26.35,
            26.59, 26.84, 27.08, 27.33, 27.57, 27.82, 28.06, 28.23, 28.43, 28.67,
            28.92, 29.16, 29.41, 29.66, 29.9, 30.15, 30.39, 30.64, 30.88, 31.13,
            31.37, 31.62, 31.86, 32.11, 32.35, 32.6, 32.8, 33.04, 33.21, 33.46,
            33.7, 33.95, 34.2, 34.44, 34.69, 34.93, 35.18, 35.42, 35.67, 35.91,
            36.16, 36.4, 36.65, 36.89, 37.14, 37.38, 37.63, 37.87, 38.12, 38.37,
            38.61, 38.86, 39.1, 39.35, 39.59, 39.84, 40.08, 40.33, 40.57, 40.82,
            41.06, 41.31, 41.55, 41.8, 42.04, 42.29, 42.53, 42.78, 43.02, 43.27,
            43.52, 43.69, 43.88, 44.13, 44.37, 44.62, 44.87, 45.11, 45.36, 45.6,
            45.84, 46.09, 46.34, 46.58, 46.83, 47.07, 47.32, 47.64]
P3_RED_V = [6.9, 6.4, 6.65, 5.85, 5.05, 4.55, 3.75, 3.6, 3.2, 4.0,
            4.15, 4.25, 4.8, 5.05, 4.8, 4.55, 5.75, 4.25, 3.2, 2.95,
            2.3, 1.35, 1.9, 4.0, 3.75, 3.2, 2.95, 2.55, 1.9, 3.2,
            5.35, 5.05, 4.55, 5.2, 6.5, 6.8, 6.9, 6.65, 5.6, 4.25,
            3.45, 3.2, 2.95, 2.8, 3.45, 4.55, 4.8, 4.8, 5.2, 4.8,
            5.05, 4.65, 3.85, 4.8, 5.35, 5.85, 5.85, 6.25, 5.6, 4.8,
            3.75, 3.2, 2.95, 3.1, 3.2, 3.85, 4.25, 4.8, 5.35, 5.85,
            6.5, 6.8, 6.5, 6.25, 5.6, 4.8, 3.85, 3.75, 3.75, 3.45,
            3.75, 4.8, 6.9, 7.45, 7.2, 6.8, 7.45, 6.9, 6.9, 6.5,
            7.05, 7.2, 7.45, 6.65, 7.2, 6.65, 6.8, 7.2, 7.2, 7.45,
            6.65, 7.2, 7.2, 8.0, 7.45, 6.9, 7.45, 6.9, 6.65, 7.05,
            7.05, 7.3, 7.45, 6.65, 7.45, 7.7, 6.65, 6.4, 5.6, 5.6,
            6.5, 6.9, 7.2, 7.45, 7.7, 8.0, 7.85, 8.0, 8.0, 8.0,
            7.45, 6.9, 7.45, 7.7, 7.6, 8.0, 8.25, 7.45, 6.4, 5.35,
            4.8, 4.65, 5.05, 5.85, 6.65, 6.8, 6.65, 7.2, 6.9, 6.4,
            6.9, 7.45, 7.2, 6.9, 7.45, 8.0, 7.45, 7.45, 8.5, 7.7,
            7.45, 6.9, 7.2, 6.65, 6.4, 6.1, 6.1, 5.85, 5.75, 5.85,
            6.9, 7.7, 8.25, 7.2, 7.3, 6.9, 7.05, 6.65, 6.25, 5.85,
            5.35, 5.05, 5.35, 4.95, 5.85, 6.1, 6.4, 6.9, 6.25, 6.9,
            7.45, 7.85, 7.7, 7.45, 6.9, 6.0, 5.6, 5.35, 5.35, 4.8,
            4.0, 3.75, 4.8, 5.85, 6.4, 6.9, 7.45, 7.45, 6.65, 5.85,
            4.8, 3.75, 4.0, 4.25, 4.4, 5.6, 6.4, 7.2]
P3_BLUE = [6.25, 5.9, 4.4, 4.5, 6.0, 5.5, 6.4, 3.9, 2.6, 4.5,
           4.3, 5.4, 5.6, 6.4, 6.3, 4.2, 4.25, 5.6, 5.85, 5.7,
           5.9, 5.8, 5.2, 4.4, 3.9, 5.6, 6.4, 5.9, 5.1, 4.6,
           5.0, 7.3, 6.7, 6.4, 6.95, 7.1, 6.9, 7.1, 6.9, 7.1,
           7.0, 6.9, 7.2, 7.1, 6.7, 5.85, 6.1, 6.7, 7.3, 8.0,
           7.45, 7.4, 7.2, 7.65, 7.2, 7.7, 7.6, 5.9, 5.1, 6.0,
           6.75, 6.85, 6.8, 6.8, 6.95, 7.45, 7.0, 7.25, 7.2, 6.45,
           6.4, 6.65, 6.2, 7.2, 7.2, 6.9, 6.25, 5.85, 5.75, 6.2,
           6.65, 7.0, 7.2, 6.9, 7.1, 5.75, 5.3, 4.9, 5.5, 6.8,
           6.7, 6.1, 5.3, 5.1, 5.8, 6.9]

# ---------------- 20 dB SNR, Sync 2 ----------------
P4_GREEN_T = [0, 0.15, 0.29, 0.47, 0.64, 0.79, 0.96, 1.13, 1.33, 1.52,
              1.7, 1.87, 2.06, 2.26, 2.51, 2.75, 3.0, 3.17, 3.34, 3.54,
              3.74, 3.91, 4.08, 4.28, 4.52, 4.77, 4.97, 5.14, 5.26, 5.46,
              5.63, 5.75, 5.87, 6.05, 6.19, 6.37, 6.54, 6.69, 6.86, 7.03,
              7.18, 7.35, 7.52, 7.72, 7.91, 8.09, 8.26, 8.46, 8.65, 8.82,
              9.0, 9.19, 9.44, 9.68, 9.93, 10.18, 10.42, 10.67, 10.91, 11.16,
              11.41, 11.65, 11.9, 12.14, 12.34, 12.51, 12.68, 12.88, 13.08, 13.25,
              13.42, 13.57, 13.74, 13.91, 14.11, 14.31, 14.48, 14.65, 14.85, 15.04,
              15.22, 15.39, 15.58, 15.78, 15.95, 16.12, 16.32, 16.52, 16.69, 16.86,
              17.06, 17.26, 17.43, 17.6, 17.75, 17.92, 18.09, 18.29, 18.48, 18.66,
              18.83, 19.03, 19.22, 19.39, 19.57, 19.76, 19.96, 20.13, 20.3, 20.5,
              20.7, 20.87, 21.04, 21.19, 21.36, 21.53, 21.73, 21.93, 22.1, 22.27,
              22.47, 22.71, 22.96, 23.2, 23.45, 23.7, 23.94, 24.19, 24.43, 24.68,
              24.92, 25.17, 25.42, 25.61, 25.78, 26.03, 26.28, 26.47, 26.65, 26.89,
              27.14, 27.38, 27.63, 27.87, 28.12, 28.37, 28.61, 28.86, 29.1, 29.3,
              29.5, 29.72, 29.9, 30.09, 30.29, 30.46, 30.63, 30.83, 31.02, 31.19,
              31.39, 31.56, 31.76, 31.93, 32.1, 32.3, 32.55, 32.79, 33.04, 33.28,
              33.53, 33.78, 34.02, 34.27, 34.51, 34.76, 35.0, 35.25, 35.5, 35.74,
              35.99, 36.23, 36.48, 36.67, 36.85, 37.09, 37.34, 37.58, 37.83, 38.07,
              38.32, 38.57, 38.81, 39.06, 39.3, 39.55, 39.8, 40.04, 40.21, 40.41,
              40.66, 40.9, 41.15, 41.39, 41.64, 41.89, 42.13, 42.38, 42.62, 42.87,
              43.11, 43.36, 43.61, 43.85, 44.1, 44.35, 44.59, 44.79, 44.96, 45.13,
              45.33, 45.52, 45.7, 45.87, 46.07, 46.31, 46.56, 46.8, 47.05, 47.17,
              47.29, 47.54, 47.7]
P4_GREEN_V = [11.7, 11.95, 12.75, 11.95, 10.1, 9.2, 8.8, 8.25, 7.2, 5.85,
              4.25, 2.95, 1.6, 0.95, 0.8, 0.95, 1.75, 0.55, 0.4, -0.1,
              -0.9, -0.5, -0.9, -0.1, -0.25, -0.35, -0.5, -0.5, 0.3, 4.95,
              8.25, 10.9, 10.1, 9.6, 10.0, 12.75, 13.3, 12.9, 13.0, 12.4,
              11.45, 10.1, 8.25, 6.4, 6.8, 3.6, 1.6, 0.95, 1.2, 0.55,
              0.8, 0.3, -0.1, -0.35, -0.75, -0.5, -0.75, -0.9, -0.5, -0.6,
              0.05, 0.95, 3.6, 6.1, 8.8, 8.8, 9.6, 10.5, 10.9, 11.7,
              12.75, 13.7, 13.3, 11.15, 10.9, 9.6, 9.05, 8.25, 8.0, 6.9,
              5.85, 4.55, 2.95, 3.45, 4.8, 5.05, 4.55, 4.0, 7.45, 9.6,
              10.1, 10.9, 11.95, 11.45, 10.1, 10.65, 11.3, 10.75, 10.9, 9.6,
              9.3, 8.25, 7.45, 8.0, 8.4, 8.25, 7.7, 9.05, 10.0, 10.9,
              11.3, 11.45, 11.45, 12.25, 12.5, 12.5, 12.9, 13.15, 12.4, 13.7,
              12.5, 11.15, 10.1, 9.6, 6.1, 4.8, 3.6, 2.15, 3.1, 3.1,
              3.6, 3.75, 3.1, 2.15, 2.15, 2.95, 3.6, 4.25, 2.95, 1.6,
              0.95, 0.55, 0.3, 0.8, 0.8, 0.55, 1.6, 4.0, 3.6, 2.3,
              5.6, 8.25, 10.1, 12.5, 13.7, 13.3, 13.0, 13.3, 13.0, 11.7,
              11.7, 11.45, 11.15, 10.65, 10.1, 9.6, 8.25, 6.9, 5.6, 4.95,
              4.0, 4.0, 3.6, 2.95, 2.95, 2.95, 3.2, 5.6, 7.45, 9.6,
              10.9, 11.95, 11.95, 13.15, 13.55, 13.4, 13.55, 13.8, 13.3, 12.75,
              11.95, 10.9, 10.1, 8.5, 7.2, 6.1, 5.05, 4.25, 4.95, 4.55,
              4.25, 2.95, 1.6, 0.3, 0.05, 0.7, 1.6, 1.35, 2.3, 2.7,
              4.25, 6.9, 9.3, 9.85, 11.15, 11.95, 13.55, 14.35, 14.85, 15.1,
              14.6, 13.55, 12.4, 11.85, 10.65, 9.05, 8.9, 9.3, 6.9, 4.25,
              1.9, 1.9, 2.2]
P4_BLACK_T = [0, 0.15, 0.29, 0.47, 0.64, 0.84, 1.03, 1.2, 1.38, 1.57,
              1.77, 1.94, 2.11, 2.31, 2.51, 2.75, 2.93, 3.1, 3.29, 3.49,
              3.66, 3.83, 4.03, 4.23, 4.4, 4.57, 4.77, 4.97, 5.14, 5.31,
              5.51, 5.7, 5.87, 6.05, 6.24, 6.44, 6.61, 6.78, 6.98, 7.18,
              7.35, 7.52, 7.72, 7.91, 8.09, 8.26, 8.46, 8.65, 8.82, 9.0,
              9.19, 9.44, 9.68, 9.93, 10.13, 10.3, 10.54, 10.79, 11.04, 11.28,
              11.45, 11.6, 11.77, 11.95, 12.14, 12.34, 12.51, 12.68, 12.88, 13.08,
              13.25, 13.42, 13.57, 13.74, 13.91, 14.11, 14.31, 14.48, 14.65, 14.85,
              15.04, 15.22, 15.39, 15.53, 15.71, 15.88, 16.08, 16.27, 16.44, 16.62,
              16.81, 17.01, 17.18, 17.35, 17.55, 17.75, 17.92, 18.09, 18.29, 18.48,
              18.66, 18.83, 19.03, 19.22, 19.39, 19.57, 19.76, 19.96, 20.13, 20.3,
              20.5, 20.7, 20.87, 21.04, 21.24, 21.43, 21.61, 21.78, 21.97, 22.17,
              22.34, 22.52, 22.71, 22.96, 23.2, 23.45, 23.7, 23.94, 24.19, 24.43,
              24.68, 24.92, 25.17, 25.42, 25.66, 25.91, 26.15, 26.35, 26.6, 26.84,
              27.09, 27.34, 27.58, 27.82, 28.07, 28.32, 28.56, 28.81, 29.0, 29.23,
              29.47, 29.72, 29.96, 30.21, 30.45, 30.7, 30.95, 31.19, 31.44, 31.68,
              31.93, 32.18, 32.42, 32.67, 32.91, 33.16, 33.41, 33.65, 33.9, 34.14,
              34.39, 34.63, 34.88, 35.13, 35.37, 35.54, 35.74, 35.99, 36.23, 36.48,
              36.72, 36.97, 37.22, 37.46, 37.58, 37.83, 38.08, 38.32, 38.57, 38.81,
              39.06, 39.3, 39.55, 39.8, 40.04, 40.29, 40.53, 40.78, 41.02, 41.27,
              41.52, 41.76, 42.01, 42.26, 42.5, 42.75, 42.99, 43.24, 43.48, 43.73,
              43.97, 44.22, 44.47, 44.71, 44.96, 45.2, 45.45, 45.7, 45.94, 46.19,
              46.44, 46.68, 46.93, 47.17, 47.42, 47.66]
P4_BLACK_V = [8.0, 8.9, 9.05, 8.4, 7.45, 6.1, 5.6, 5.05, 4.55, 4.0,
              3.2, 1.9, 0.95, 0.7, 0.8, 0.7, 1.1, 0.55, 0.7, 0.3,
              0.05, 0.15, 0.4, 0.15, 0.95, -0.1, 0.3, 0.3, 1.35, 3.6,
              5.6, 6.0, 5.85, 5.6, 6.25, 7.45, 8.0, 8.0, 7.7, 6.9,
              5.6, 4.25, 3.45, 2.95, 2.15, 1.2, 0.7, 0.8, 0.55, 0.8,
              0.4, 0.3, 0.3, -0.35, 0.15, 0.3, 0.15, 0.3, 0.15, 0.4,
              0.3, 1.2, 1.35, 1.9, 3.1, 4.0, 4.25, 4.8, 5.85, 6.8,
              8.0, 8.5, 8.0, 8.5, 7.2, 5.85, 4.8, 4.25, 4.0, 4.25,
              3.6, 3.85, 2.95, 0.95, 0.55, 1.1, 1.2, 1.6, 1.6, 3.6,
              5.6, 7.45, 7.7, 7.45, 7.45, 7.3, 7.2, 7.05, 6.9, 7.05,
              6.9, 6.4, 5.6, 5.85, 6.1, 6.0, 6.1, 6.0, 7.2, 7.45,
              7.45, 7.6, 7.45, 7.7, 8.0, 7.7, 8.0, 8.0, 7.85, 8.25,
              8.0, 7.45, 5.85, 5.35, 4.25, 2.95, 1.35, 1.1, 1.35, 1.5,
              1.1, 1.35, 1.6, 1.35, 0.8, 0.4, 1.1, 1.6, 1.2, 0.8,
              0.55, 0.3, 0.8, 0.8, 0.8, 1.1, 1.75, 4.0, 1.6, 2.3,
              5.35, 6.1, 7.05, 8.4, 8.8, 8.5, 7.45, 6.9, 7.2, 7.3,
              7.3, 7.05, 6.25, 4.95, 3.85, 2.7, 1.9, 1.6, 1.6, 1.35,
              0.95, 1.2, 1.6, 2.95, 5.35, 6.5, 5.85, 6.1, 6.9, 7.7,
              8.4, 8.4, 8.5, 8.25, 8.8, 8.25, 7.85, 6.9, 6.25, 5.6,
              5.35, 4.8, 3.6, 2.95, 1.6, 2.3, 1.35, 1.1, 0.8, 0.55,
              0.15, -0.35, 0.4, 0.8, 0.4, 1.6, 2.95, 4.25, 4.55, 5.6,
              6.0, 6.65, 7.45, 8.5, 9.3, 9.05, 7.45, 6.1, 4.55, 4.4,
              4.15, 4.25, 3.2, 1.6, 0.7, 1.2]
P4_RED = [6.7, 6.9, 4.3, 3.5, 0.9, 0.4, 0.3, 0.3, 0.1, 0.05,
          -0.2, 4.6, 5.2, 6.4, 6.8, 4.1, 2.6, 0.55, 0.5, 0.1,
          0.3, 0.3, 0.3, 0.3, 2.9, 4.1, 5.9, 6.9, 5.4, 3.5,
          3.45, 0.8, 0.6, 1.1, 5.85, 5.35, 5.05, 4.8, 3.6, 2.2,
          3.2, 5.85, 6.4, 7.0, 7.4, 6.1, 3.45, 1.1, 0.85, 0.65,
          0.6, 0.6, 0.4, 0.6, 0.25, 0.2, 0.2, 0.25, 0.6, 3.5,
          6.4, 6.6, 7.0, 6.8, 5.6, 3.5, 1.9, 0.9, 0.6, 0.2,
          1.5, 5.1, 6.2, 7.0, 7.1, 6.8, 6.0, 5.55, 4.7, 2.8,
          1.0, 0.7, 0.4, 0.25, 0.1, 0.1, 2.8, 4.6, 5.7, 6.3,
          7.6, 6.8, 4.6, 3.9, 1.6, 0.3]
P4_BLUE = [6.0, 6.3, 4.3, 3.3, 1.0, 0.3, 0.15, 0.05, -0.05, -0.3,
           -0.1, 4.5, 4.8, 6.0, 6.4, 4.7, 1.6, 0.1, 0.2, -0.35,
           0.3, 0.2, -0.5, 0.3, 2.8, 5.3, 6.4, 5.9, 5.1, 4.3,
           4.4, 1.2, 1.0, 1.3, 5.6, 6.1, 5.35, 3.2, 2.9, 3.45,
           5.05, 6.1, 6.2, 6.5, 6.6, 6.4, 4.0, 1.6, 0.7, 0.4,
           0.3, 0.6, 0.35, 0.8, 0.2, 0.0, 0.35, -0.7, 1.0, 4.25,
           6.5, 6.65, 6.6, 6.6, 5.4, 3.45, 2.0, 1.55, 1.0, 0.6,
           2.5, 5.6, 6.15, 7.1, 7.2, 7.2, 6.4, 5.5, 4.4, 2.7,
           1.5, 0.8, -0.05, 0.3, 0.2, -0.2, 2.3, 4.8, 5.85, 6.5,
           7.0, 6.5, 5.1, 5.05, 3.0, 0.3]

TITLES = [
    "Equalizer Performance Comparison at 6 dB SNR, Sync 1",
    "Equalizer Performance Comparison at 6 dB SNR, Sync 2",
    "Equalizer Performance Comparison at 20 dB SNR, Sycn 1",
    "Equalizer Performance Comparison at 20 dB SNR, Sycn 2",
]
X_TICKS = [0, 5, 10, 15, 20, 25, 30, 35, 40, 45]
Y_TICKS_TOP = [-1, 0, 1, 2, 3, 4, 5, 6, 7, 8, 9, 10]
Y_TICKS_BOTTOM = [0, 2, 4, 6, 8, 10, 12, 14, 16]
ANNOT_TEXT = ["6dB", "6dB", "20dB", "20dB"]
ANNOT_T = [26.44, 26.7, 27.4, 26.9]
ANNOT_V = [0.0, 7.31, 1.98, 11.84]

FONT = "Liberation Sans"
AXIS_COLOR = "#6b6b6b"
GRID_COLOR = "#e4e4e4"
TEXT_COLOR = "#262626"
STYLES = [("#0de80d", None), ("#000000", None), ("#ff0000", None), ("#0000ff", [9, 5])]


def make_panel(idx, series, y_domain, y_ticks, width, height, title_offset,
               y_domain_line=True):
    xscale = alt.Scale(domain=[0, 47.7], nice=False, zero=False)
    yscale = alt.Scale(domain=y_domain, nice=False, zero=False)
    xaxis = alt.Axis(values=X_TICKS, title="Time (s)", grid=True, gridColor=GRID_COLOR,
                     domainColor=AXIS_COLOR, ticks=False, tickSize=0, labelFlush=False,
                     labelFont=FONT, labelFontSize=21, labelColor=TEXT_COLOR, labelPadding=11,
                     titleFont=FONT, titleFontSize=23, titleFontWeight="normal",
                     titleColor=TEXT_COLOR, titlePadding=7)
    yaxis = alt.Axis(values=y_ticks, title="Soft Decision SNR (dB)", grid=True,
                     gridColor=GRID_COLOR, domain=y_domain_line, domainColor=AXIS_COLOR,
                     ticks=False, tickSize=0, labelFlush=False,
                     labelExpr="'' + datum.value",
                     labelFont=FONT, labelFontSize=21, labelColor=TEXT_COLOR, labelPadding=9,
                     titleFont=FONT, titleFontSize=23, titleFontWeight="normal",
                     titleColor=TEXT_COLOR, titlePadding=5)
    layers = []
    for (times, values), (color, dash) in zip(series, STYLES):
        df = pd.DataFrame({"t": times, "v": values})
        kw = dict(color=color, strokeWidth=2.7, strokeJoin="round", clip=True)
        if dash:
            kw["strokeDash"] = dash
        layers.append(
            alt.Chart(df).mark_line(**kw).encode(
                x=alt.X("t:Q", scale=xscale, axis=xaxis),
                y=alt.Y("v:Q", scale=yscale, axis=yaxis),
            )
        )
    if not y_domain_line:
        rule_df = pd.DataFrame({"t": [0.0], "lo": [y_ticks[0]], "hi": [y_ticks[-1]]})
        layers.append(
            alt.Chart(rule_df).mark_rule(color=AXIS_COLOR, strokeWidth=1).encode(
                x=alt.X("t:Q", scale=xscale, axis=xaxis),
                y=alt.Y("lo:Q", scale=yscale, axis=yaxis),
                y2="hi:Q",
            )
        )
    ann_df = pd.DataFrame({"t": [ANNOT_T[idx]], "v": [ANNOT_V[idx]], "label": [ANNOT_TEXT[idx]]})
    layers.append(
        alt.Chart(ann_df).mark_text(font="Lato", fontSize=46, color="#000000",
                                    align="center", baseline="middle").encode(
            x=alt.X("t:Q", scale=xscale, axis=xaxis),
            y=alt.Y("v:Q", scale=yscale, axis=yaxis),
            text="label:N",
        )
    )
    return alt.layer(*layers).properties(
        width=width, height=height,
        title=alt.TitleParams(TITLES[idx], font=FONT, fontSize=23, fontWeight="normal",
                              color="#1a1a1a", offset=title_offset, anchor="middle",
                              frame="group"),
    )


p1 = make_panel(0, [(P1_GREEN_T, P1_GREEN_V), (P1_BLACK_T, P1_BLACK_V),
                    (P1_RED_T, P1_RED_V), (P1_BLUE_T, P1_BLUE_V)],
                [-1, 10.151], Y_TICKS_TOP, 648, 517, -7, y_domain_line=False)
p2 = make_panel(1, [(P2_GREEN_T, P2_GREEN_V), (P2_BLACK_T, P2_BLACK_V),
                    (TIME, P2_RED), (TIME, P2_BLUE)],
                [-1, 10], Y_TICKS_TOP, 643, 510, -6)
p3 = make_panel(2, [(P3_GREEN_T, P3_GREEN_V), (P3_BLACK_T, P3_BLACK_V),
                    (P3_RED_T, P3_RED_V), (TIME, P3_BLUE)],
                [-1, 16], Y_TICKS_BOTTOM, 648, 512, -7)
p4 = make_panel(3, [(P4_GREEN_T, P4_GREEN_V), (P4_BLACK_T, P4_BLACK_V),
                    (TIME, P4_RED), (TIME, P4_BLUE)],
                [-1, 16], Y_TICKS_BOTTOM, 650, 512, -7)

chart = alt.concat(
    p1, p2, p3, p4, columns=2, spacing={"row": 117, "column": 182},
    bounds="flush", align="each",
).properties(
    padding={"left": 26, "top": 13, "right": 5, "bottom": 5},
).configure_view(stroke=None)

chart.save("out.html", embed_options={"renderer": "svg", "actions": False})
